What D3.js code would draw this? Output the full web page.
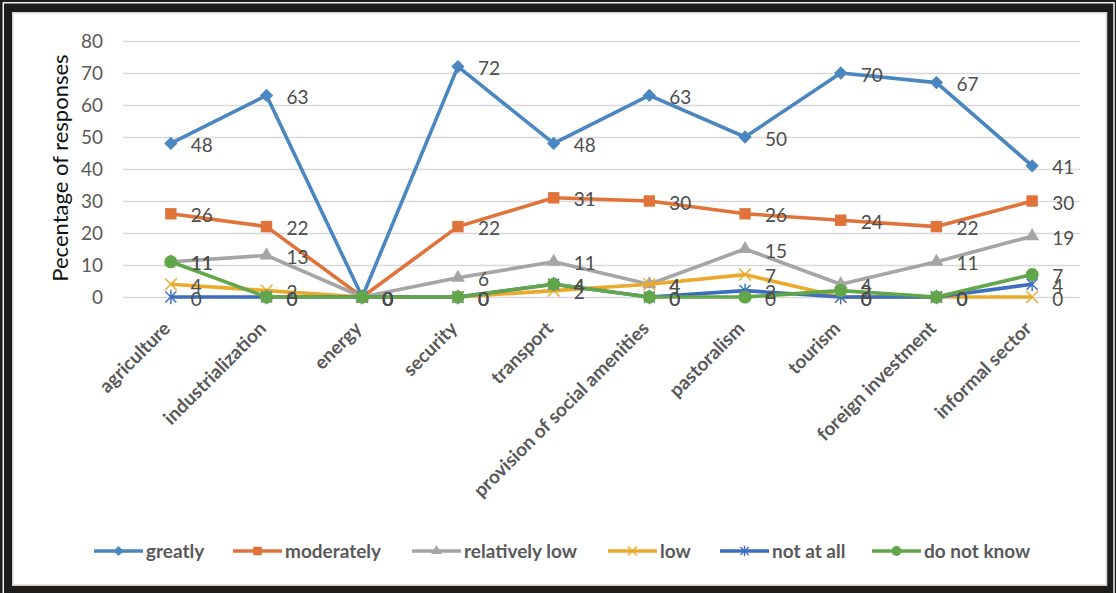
<!DOCTYPE html>
<html><head><meta charset="utf-8">
<script src="https://cdn.jsdelivr.net/npm/d3@7"></script>
<style>html,body{margin:0;padding:0;background:#fff}svg{display:block}</style>
</head><body><svg id="chart" width="1116" height="593"></svg>
<script>
// Categories and series (percentage of responses)
const categories = ["agriculture", "industrialization", "energy", "security", "transport",
  "provision of social amenities", "pastoralism", "tourism", "foreign investment", "informal sector"];
const greatly       = [48, 63, 0, 72, 48, 63, 50, 70, 67, 41];
const moderately    = [26, 22, 0, 22, 31, 30, 26, 24, 22, 30];
const relativelyLow = [11, 13, 0, 6, 11, 4, 15, 4, 11, 19];
const low           = [4, 2, 0, 0, 2, 4, 7, 0, 0, 0];
const notAtAll      = [0, 0, 0, 0, 4, 0, 2, 0, 0, 4];
const doNotKnow     = [11, 0, 0, 0, 4, 0, 0, 2, 0, 7];
const seriesNames   = ["greatly", "moderately", "relatively low", "low", "not at all", "do not know"];
const yTicks        = [0, 10, 20, 30, 40, 50, 60, 70, 80];
const yTitle        = "Pecentage of responses";

const seriesValues = [greatly, moderately, relativelyLow, low, notAtAll, doNotKnow];
const colors  = ["#4A86C0", "#E0733A", "#A5A5A5", "#EAAA2C", "#3C6DC0", "#62A64A"];
const markers = ["diamond", "square", "triangle", "x", "star", "circle"];

const W = 1116, H = 593;
const svg = d3.select("#chart");
const FONT = "Lato, 'Liberation Sans', sans-serif";

// Frame: black outer band, thin white rule, light grey chart-area edge
svg.append("rect").attr("x", 0).attr("y", 0).attr("width", W).attr("height", H).attr("fill", "#1f1c1c");
svg.append("rect").attr("x", 3.25).attr("y", 2.75).attr("width", 1114 - 3.25).attr("height", 620)
  .attr("fill", "none").attr("stroke", "#ffffff").attr("stroke-width", 1.4);
svg.append("rect").attr("x", 12.75).attr("y", 12.75).attr("width", 1106.5 - 12.75).attr("height", 585.2 - 12.75)
  .attr("fill", "#ffffff").attr("stroke", "#d4d4d4").attr("stroke-width", 1.5);

// Scales
const x = d3.scaleBand().domain(categories).range([123, 1080]).padding(0);
const cx = c => x(c) + x.bandwidth() / 2;
const y = d3.scaleLinear().domain([0, 80]).range([297, 41]);

// Gridlines + y tick labels
const yAxis = d3.axisLeft(y).tickValues(yTicks).tickSize(-(1080 - 123)).tickPadding(20).tickFormat(d3.format("d"));
const gy = svg.append("g").attr("transform", "translate(123,0)").call(yAxis);
gy.select(".domain").remove();
gy.selectAll(".tick line").attr("stroke", "#d9d9d9").attr("stroke-width", 1.3);
gy.selectAll(".tick text").attr("font-family", FONT).attr("font-size", 19).attr("fill", "#595959");

// Y title
svg.append("text")
  .attr("transform", "translate(68,168) rotate(-90)")
  .attr("text-anchor", "middle")
  .attr("font-family", FONT).attr("font-size", 22).attr("fill", "#111")
  .text(yTitle);

// Category labels (rotated)
const gx = svg.append("g");
gx.selectAll("text").data(categories).join("text")
  .attr("transform", d => `translate(${cx(d) - 4},${325}) rotate(-45)`)
  .attr("text-anchor", "end").attr("dy", "0.35em")
  .attr("font-family", FONT).attr("font-size", 19).attr("font-weight", "bold").attr("fill", "#595959")
  .text(d => d);

// Marker shapes
function drawMarker(g, type, color, scale) {
  const s = scale || 1;
  if (type === "diamond") {
    g.append("path").attr("d", d3.symbol(d3.symbolSquare, 88 * s * s)()).attr("transform", "rotate(45)").attr("fill", color);
  } else if (type === "square") {
    g.append("path").attr("d", d3.symbol(d3.symbolSquare, 130 * s * s)()).attr("fill", color);
  } else if (type === "triangle") {
    g.append("path").attr("d", d3.symbol(d3.symbolTriangle, 85 * s * s)()).attr("fill", color);
  } else if (type === "circle") {
    g.append("path").attr("d", d3.symbol(d3.symbolCircle, 135 * s * s)()).attr("fill", color);
  } else if (type === "x") {
    const r = 6 * s;
    g.append("path").attr("d", `M${-r},${-r}L${r},${r}M${-r},${r}L${r},${-r}`).attr("stroke", color).attr("stroke-width", 1.4).attr("fill", "none");
  } else if (type === "star") {
    const r = 5.5 * s;
    g.append("path").attr("d", `M${-r},${-r}L${r},${r}M${-r},${r}L${r},${-r}M0,${-r * 1.3}L0,${r * 1.3}`).attr("stroke", color).attr("stroke-width", 1.4).attr("fill", "none");
  }
}

// Lines with markers
const line = d3.line().x((d, i) => cx(categories[i])).y(d => y(d));
seriesValues.forEach((vals, si) => {
  const g = svg.append("g");
  g.append("path").datum(vals).attr("d", line).attr("fill", "none")
    .attr("stroke", colors[si]).attr("stroke-width", 3.6).attr("stroke-linejoin", "round");
  vals.forEach((v, i) => {
    const mg = g.append("g").attr("transform", `translate(${cx(categories[i])},${y(v)})`);
    drawMarker(mg, markers[si], colors[si]);
  });
});

// Data labels on top of all series
seriesValues.forEach((vals) => {
  svg.append("g").selectAll("text").data(vals).join("text")
    .attr("x", (d, i) => cx(categories[i]) + 20)
    .attr("y", d => y(d) + 2)
    .attr("dy", "0.35em")
    .attr("font-family", FONT).attr("font-size", 19).attr("fill", "#4d4d4d")
    .text(d => d);
});

// Legend
const legendX = [94, 233, 412, 608, 720, 872];
const legendY = 551;
seriesNames.forEach((name, si) => {
  const g = svg.append("g").attr("transform", `translate(${legendX[si]},${legendY})`);
  g.append("line").attr("x1", 0).attr("x2", 49).attr("y1", 0).attr("y2", 0)
    .attr("stroke", colors[si]).attr("stroke-width", 3.6);
  const mg = g.append("g").attr("transform", "translate(24.5,0)");
  drawMarker(mg, markers[si], colors[si], 0.75);
  g.append("text").attr("x", 52).attr("dy", "0.35em")
    .attr("font-family", FONT).attr("font-size", 19).attr("font-weight", "bold").attr("fill", "#595959")
    .text(name);
});
</script>
</body></html>
